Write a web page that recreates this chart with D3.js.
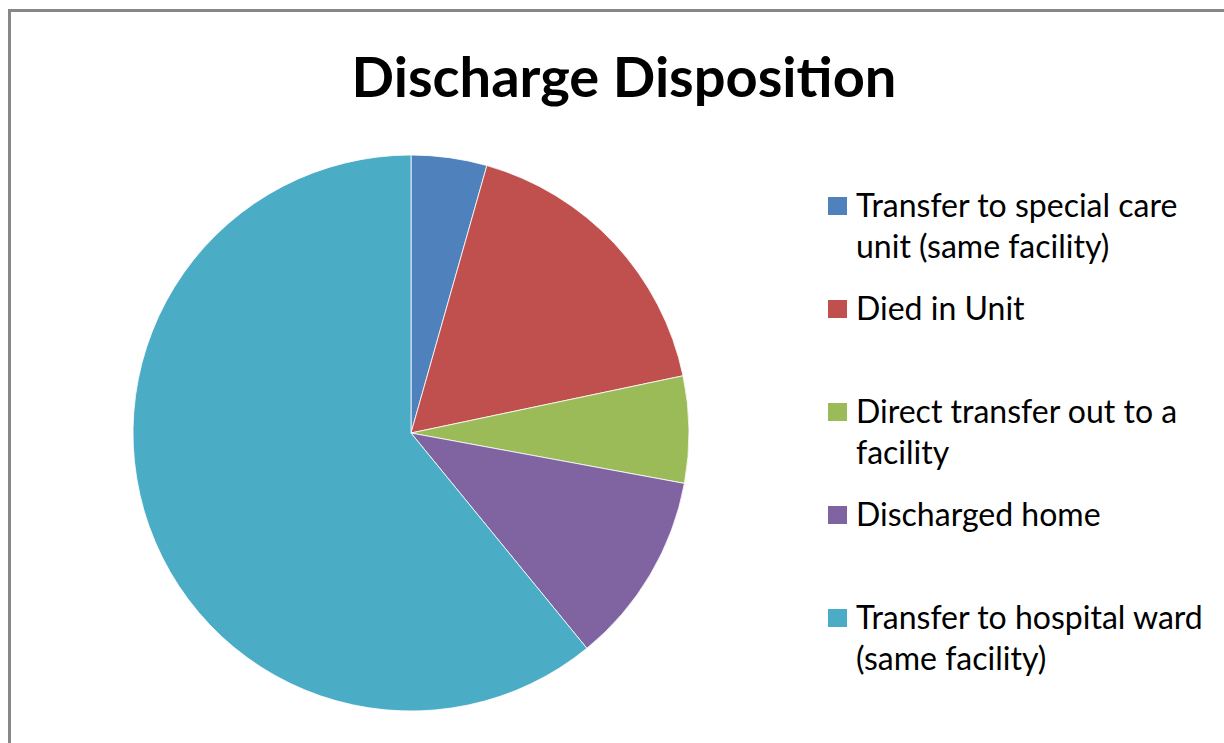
<!DOCTYPE html>
<html>
<head>
<meta charset="utf-8">
<script src="https://cdn.jsdelivr.net/npm/d3@7"></script>
<style>
  body { margin: 0; background: #fff; }
  svg { display: block; }
  text { font-family: Lato, "Open Sans", sans-serif; }
</style>
</head>
<body>
<svg id="chart" width="1224" height="743"></svg>
<script>
// Discharge disposition pie, values are percentages.
var categories = [
    "Transfer to special care unit (same facility)",
    "Died in Unit",
    "Direct transfer out to a facility",
    "Discharged home",
    "Transfer to hospital ward (same facility)"
];
var legendLines = [
    ["Transfer to special care", "unit (same facility)"],
    ["Died in Unit"],
    ["Direct transfer out to a", "facility"],
    ["Discharged home"],
    ["Transfer to hospital ward", "(same facility)"]
];
var values = [4.4, 17.3, 6.2, 11.2, 60.9];
var colors = ["#4F81BD", "#C0504D", "#9BBB59", "#8064A2", "#4BACC6"];

var svg = d3.select("#chart");

// Chart frame (right and bottom edges run off the picture)
svg.append("rect")
    .attr("x", 9.5).attr("y", 10.5)
    .attr("width", 1300).attr("height", 800)
    .attr("fill", "#fff")
    .attr("stroke", "#878787")
    .attr("stroke-width", 3);

// Title, sized to fill the same width as the original
var title = svg.append("text")
    .attr("x", 624)
    .attr("y", 97)
    .attr("text-anchor", "middle")
    .attr("font-weight", "bold")
    .attr("font-size", 50)
    .attr("fill", "#000")
    .text("Discharge Disposition");
var tw = title.node().getComputedTextLength();
title.attr("font-size", 50 * 545 / tw);

// Pie
var cx = 411, cy = 433, r = 278;
var color = d3.scaleOrdinal().domain(categories).range(colors);
var pie = d3.pie().sort(null).value(function (d) { return d.value; });
var arc = d3.arc().innerRadius(0).outerRadius(r);

var data = categories.map(function (c, i) { return { name: c, value: values[i] }; });

svg.append("g")
    .attr("transform", "translate(" + cx + "," + cy + ")")
    .selectAll("path")
    .data(pie(data))
    .join("path")
    .attr("d", arc)
    .attr("fill", function (d) { return color(d.data.name); })
    .attr("stroke", "#fff")
    .attr("stroke-width", 0.8);

// Legend
var rowY = d3.scalePoint().domain(categories).range([206, 618]);
var legend = svg.append("g");
var rows = legend.selectAll("g")
    .data(categories)
    .join("g")
    .attr("transform", function (d) { return "translate(828," + rowY(d) + ")"; });

rows.append("rect")
    .attr("x", 0).attr("y", -9)
    .attr("width", 19).attr("height", 18)
    .attr("fill", function (d) { return color(d); });

var texts = rows.append("text")
    .attr("x", 28)
    .attr("y", 0)
    .attr("fill", "#000")
    .attr("font-size", 27);

texts.selectAll("tspan")
    .data(function (d, i) { return legendLines[i]; })
    .join("tspan")
    .attr("x", 28)
    .attr("y", function (d, j) { return j * 41; })
    .attr("dy", "0.35em")
    .text(function (d) { return d; });

// Fit legend font to the original line width
var widest = 0;
texts.selectAll("tspan").each(function () {
    widest = Math.max(widest, this.getComputedTextLength());
});
texts.attr("font-size", 27 * 347 / widest);
</script>
</body>
</html>
